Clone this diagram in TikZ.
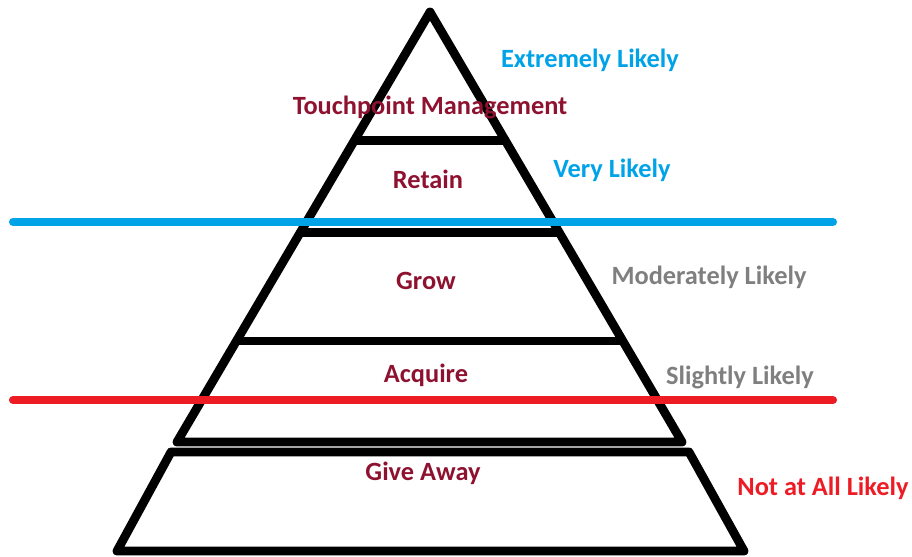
\documentclass[tikz,border=0pt]{standalone}
\usepackage{fontspec}
\setmainfont{Carlito}
\usetikzlibrary{calc}

\definecolor{tierred}{HTML}{8E1230}
\definecolor{likelyblue}{HTML}{00A2E8}
\definecolor{likelygray}{HTML}{7F7F7F}
\definecolor{likelyred}{HTML}{ED1C24}

\tikzset{
  tier/.style={text=tierred, font=\fontsize{15}{18}\selectfont\bfseries},
  likely/.style={font=\fontsize{15}{18}\selectfont\bfseries},
  wall/.style={line width=5pt, line join=round},
  cut/.style={line width=4.6pt, line cap=round}
}

\begin{document}
\begin{tikzpicture}[x=0.02cm, y=-0.02cm]

\useasboundingbox (0, 0) rectangle (912, 557);

% Pyramid
\coordinate (apex) at (430, 12);
\coordinate (bl) at (177, 442);
\coordinate (br) at (682, 442);
\draw[wall] (apex) -- (bl) -- (br) -- cycle;

\draw[wall] ($(apex)!0.298!(bl)$) -- ($(apex)!0.298!(br)$);
\draw[wall] ($(apex)!0.512!(bl)$) -- ($(apex)!0.512!(br)$);
\draw[wall] ($(apex)!0.765!(bl)$) -- ($(apex)!0.765!(br)$);

% Base
\draw[wall] (171, 452) -- (689, 452) -- (744, 551) -- (117, 551) -- cycle;

% Limits
\draw[cut, likelyblue] (13, 222) -- (833, 222);
\draw[cut, likelyred] (13, 400) -- (833, 400);

% Tiers
\node[tier] (touch) at (430, 107) {Touchpoint Management};
\node[tier] (retain) at (428, 179) {Retain};
\node[tier] (grow) at (426, 281) {Grow};
\node[tier] (acquire) at (426, 375) {Acquire};
\node[tier] (give) at (423, 473) {Give Away};

% Likelihood
\node[likely, text=likelyblue] (extreme) at (590, 60) {Extremely Likely};
\node[likely, text=likelyblue] (very) at (612, 170) {Very Likely};
\node[likely, text=likelygray] (moderate) at (709, 277) {Moderately Likely};
\node[likely, text=likelygray] (slight) at (740, 377) {Slightly Likely};
\node[likely, text=likelyred] (notall) at (823, 488) {Not at All Likely};

\end{tikzpicture}
\end{document}
